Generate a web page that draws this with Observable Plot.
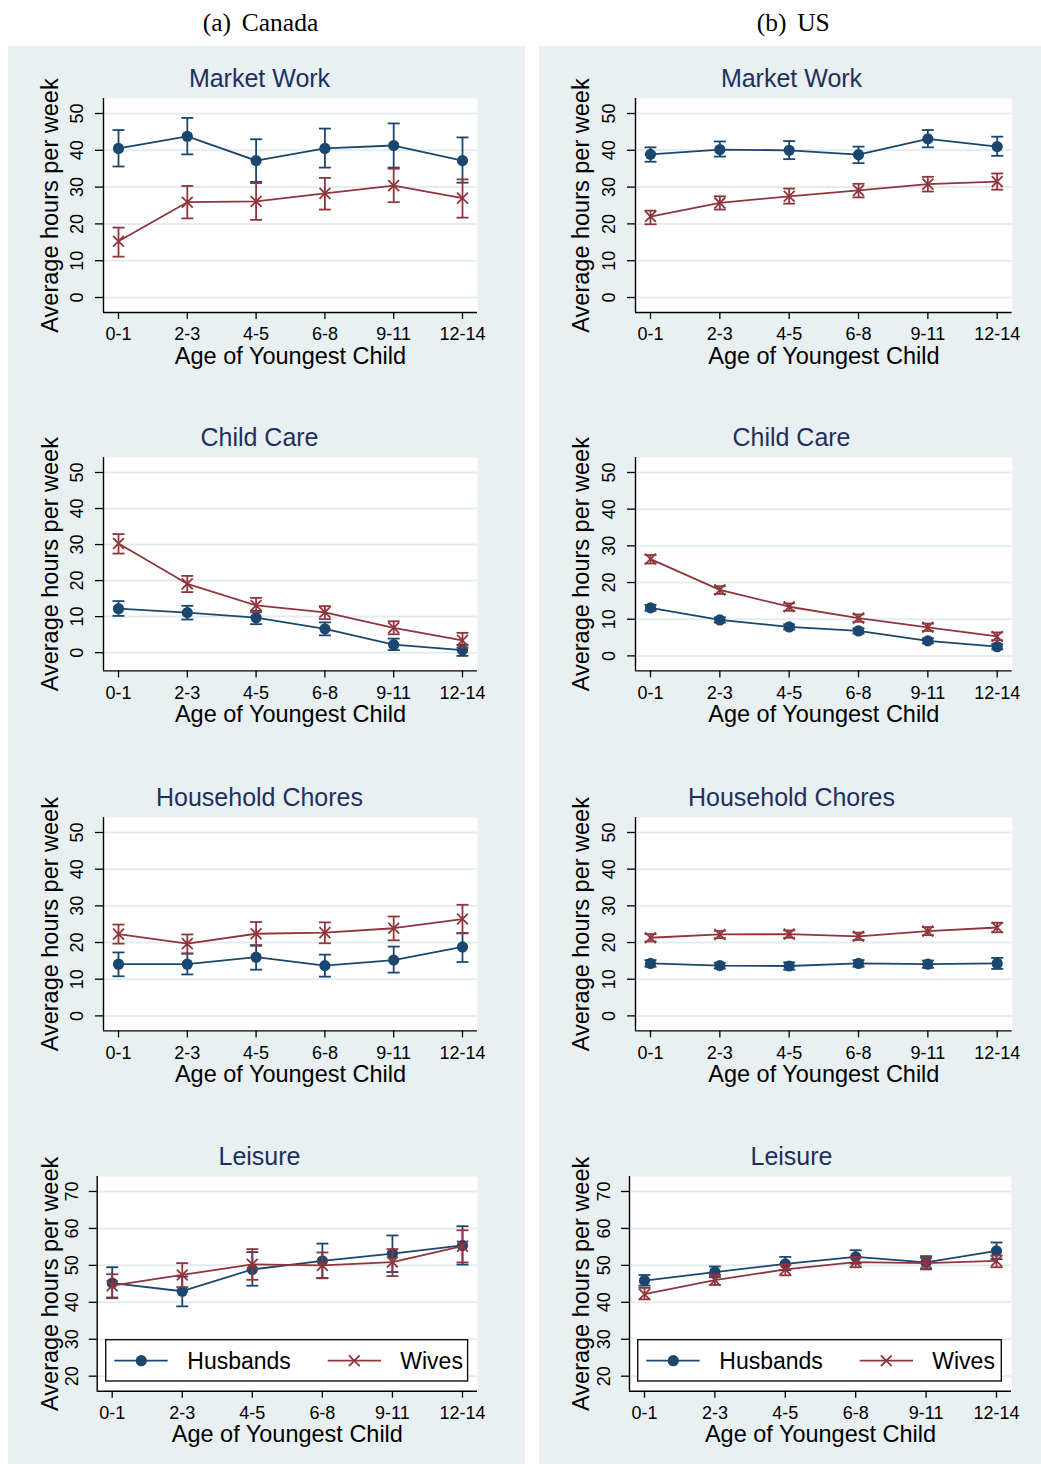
<!DOCTYPE html>
<html><head><meta charset="utf-8">
<script src="https://cdn.jsdelivr.net/npm/d3@7"></script>
<script src="https://cdn.jsdelivr.net/npm/@observablehq/plot@0.6"></script>
<style>
body{margin:0;background:#fff;}
#page{position:relative;width:1041px;height:1464px;overflow:hidden;font-family:"Liberation Sans",Arial,sans-serif;}
.col{position:absolute;top:46px;height:1418px;background:#e8f0f2;}
.hdr{position:absolute;top:10.3px;font-family:"Liberation Serif","Times New Roman",serif;font-size:25.5px;line-height:1;white-space:nowrap;transform:translateX(-50%);color:#000;}
.hdr span+span{margin-left:10.7px;}
.cell{position:absolute;}
.cell svg{overflow:visible;}
.cell svg text{font-family:"Liberation Sans",Arial,sans-serif;}
</style></head><body><div id="page"></div>
<script>
// ---------- data ----------
const categories = ["0-1","2-3","4-5","6-8","9-11","12-14"];
const ticksHours = [0,10,20,30,40,50];
const ticksLeisure = [20,30,40,50,60,70];
const seriesNames = ["Husbands","Wives"];
const panelTitles = ["Market Work","Child Care","Household Chores","Leisure"];
const countryHeaders = [["(a)","Canada"],["(b)","US"]];
const xTitle = "Age of Youngest Child";
const yTitle = "Average hours per week";

// Canada
const caMarketHus = [40.5, 43.8, 37.2, 40.5, 41.3, 37.2];
const caMarketHusCI = [[35.6,45.5],[38.9,48.8],[31.4,43.0],[35.3,45.9],[35.3,47.3],[31.2,43.5]];
const caMarketWiv = [15.3, 25.9, 26.1, 28.3, 30.4, 27.0];
const caMarketWivCI = [[11.1,19.0],[21.5,30.3],[21.1,31.1],[23.9,32.5],[25.9,35.0],[21.7,32.1]];
const caCareHus = [12.2, 11.1, 9.7, 6.6, 2.2, 0.7];
const caCareHusCI = [[10.2,14.3],[9.2,13.0],[7.9,11.6],[4.8,8.4],[0.7,3.9],[-0.9,2.2]];
const caCareWiv = [30.3, 19.1, 13.1, 11.2, 6.9, 3.4];
const caCareWivCI = [[27.5,32.9],[16.8,21.3],[11.2,15.2],[9.3,12.9],[5.1,8.7],[1.4,5.5]];
const caChoreHus = [14.1, 14.1, 16.0, 13.7, 15.2, 18.8];
const caChoreHusCI = [[10.8,17.3],[11.3,17.0],[12.6,19.3],[10.7,16.7],[11.8,18.9],[14.7,22.5]];
const caChoreWiv = [22.3, 19.7, 22.4, 22.7, 23.9, 26.4];
const caChoreWivCI = [[19.7,24.9],[17.0,22.2],[19.1,25.6],[19.8,25.5],[20.6,27.1],[22.6,30.3]];
const caLeisHus = [45.2, 43.0, 48.9, 51.2, 53.2, 55.4];
const caLeisHusCI = [[41.3,49.5],[38.9,47.0],[44.5,53.6],[46.6,55.9],[48.2,58.1],[50.2,60.6]];
const caLeisWiv = [44.5, 47.4, 50.3, 50.0, 50.9, 55.2];
const caLeisWivCI = [[41.1,47.6],[44.1,50.6],[46.1,54.4],[46.5,53.5],[47.1,54.4],[50.8,59.5]];

// US
const usMarketHus = [38.9, 40.2, 40.0, 38.8, 43.1, 41.0];
const usMarketHusCI = [[36.9,40.8],[38.3,42.4],[37.6,42.5],[36.5,41.0],[40.8,45.5],[38.5,43.7]];
const usMarketWiv = [22.0, 25.7, 27.5, 29.1, 30.8, 31.5];
const usMarketWivCI = [[19.9,23.6],[23.9,27.5],[25.5,29.6],[27.2,30.9],[28.8,32.8],[29.3,33.7]];
const usCareHus = [13.1, 9.8, 7.9, 6.8, 4.1, 2.5];
const usCareHusCI = [[12.3,13.9],[9.1,10.5],[7.2,8.6],[6.1,7.5],[3.4,4.8],[1.8,3.2]];
const usCareWiv = [26.4, 18.0, 13.4, 10.3, 7.8, 5.3];
const usCareWivCI = [[25.2,27.5],[16.9,19.0],[12.3,14.3],[9.3,11.3],[6.8,8.8],[4.3,6.4]];
const usChoreHus = [14.3, 13.7, 13.6, 14.3, 14.1, 14.3];
const usChoreHusCI = [[13.4,15.2],[12.9,14.5],[12.6,14.6],[13.4,15.2],[13.1,15.1],[12.8,15.8]];
const usChoreWiv = [21.3, 22.2, 22.3, 21.7, 23.1, 24.1];
const usChoreWivCI = [[20.3,22.3],[21.2,23.2],[21.3,23.3],[20.7,22.7],[22.0,24.2],[22.8,25.4]];
const usLeisHus = [45.9, 48.2, 50.4, 52.3, 50.8, 53.9];
const usLeisHusCI = [[44.5,47.4],[46.8,49.7],[48.7,52.3],[50.5,54.1],[49.0,52.5],[51.7,56.2]];
const usLeisWiv = [42.2, 46.0, 48.9, 50.9, 50.6, 51.2];
const usLeisWivCI = [[40.8,43.9],[44.7,47.4],[47.3,50.3],[49.5,52.3],[48.9,52.2],[49.5,52.7]];

// ---------- styling / layout ----------
const FONT = "'Liberation Sans', Arial, sans-serif";
const NAVY = "#1a476f", MAROON = "#90353b", TITLE = "#1f2f5e", GRID = "#e3ecef";
const rowTops = [98, 457.3, 817.3, 1176];
const rowH = [214, 213.4, 213.4, 214.7];
const MT = 52, MB = 62;
const cols = [
  {left: 8, width: 517, titleX: 251, ml: [95,95,95,88.7], mr: [48,48,48,48], hdrX: 260.5,
   data: [[caMarketHus,caMarketHusCI,caMarketWiv,caMarketWivCI],[caCareHus,caCareHusCI,caCareWiv,caCareWivCI],
          [caChoreHus,caChoreHusCI,caChoreWiv,caChoreWivCI],[caLeisHus,caLeisHusCI,caLeisWiv,caLeisWivCI]]},
  {left: 539, width: 502, titleX: 252, ml: [96,96,96,90], mr: [29.3,29.3,29.3,30], hdrX: 793.3,
   data: [[usMarketHus,usMarketHusCI,usMarketWiv,usMarketWivCI],[usCareHus,usCareHusCI,usCareWiv,usCareWivCI],
          [usChoreHus,usChoreHusCI,usChoreWiv,usChoreWivCI],[usLeisHus,usLeisHusCI,usLeisWiv,usLeisWivCI]]}
];

const capSymbol = {draw(ctx, size) { const w = Math.sqrt(size / Math.PI); ctx.moveTo(-w, 0); ctx.lineTo(w, 0); }};

function seriesMarks(vals, ci, color, isWives) {
  const data = vals.map((v, i) => ({i, v, lo: ci[i][0], hi: ci[i][1]}));
  const sw = 1.8;
  return [
    Plot.ruleX(data, {x: "i", y1: "lo", y2: "hi", stroke: color, strokeWidth: sw}),
    Plot.dot(data, {x: "i", y: "lo", symbol: capSymbol, r: 6, fill: "none", stroke: color, strokeWidth: sw}),
    Plot.dot(data, {x: "i", y: "hi", symbol: capSymbol, r: 6, fill: "none", stroke: color, strokeWidth: sw}),
    Plot.line(data, {x: "i", y: "v", stroke: color, strokeWidth: sw}),
    isWives
      ? Plot.dot(data, {x: "i", y: "v", symbol: "times", r: 5, fill: "none", stroke: color, strokeWidth: 1.8})
      : Plot.dot(data, {x: "i", y: "v", r: 5.6, fill: color, stroke: "none"})
  ];
}

function panel(col, ri) {
  const [hus, husCI, wiv, wivCI] = col.data[ri];
  const yTicks = ri === 3 ? ticksLeisure : ticksHours;
  const ml = col.ml[ri], mr = col.mr[ri], plotH = rowH[ri];
  const all = [...husCI.flat(), ...wivCI.flat(), ...hus, ...wiv];
  const lo = Math.min(yTicks[0], d3.min(all)), hi = Math.max(yTicks[yTicks.length - 1], d3.max(all));
  const inset = 15;
  const padY = inset * (hi - lo) / (plotH - 2 * inset);
  const yDom = [lo - padY, hi + padY];
  const plotW = col.width - ml - mr;
  const n = categories.length - 1;
  const padX = inset * n / (plotW - 2 * inset);
  const xDom = [-padX, n + padX];
  return Plot.plot({
    width: col.width, height: MT + plotH + MB,
    marginTop: MT, marginBottom: MB, marginLeft: ml, marginRight: mr,
    x: {domain: xDom}, y: {domain: yDom},
    style: {background: "transparent", fontFamily: FONT, color: "#000", overflow: "visible"},
    marks: [
      Plot.frame({fill: "white", stroke: "none"}),
      Plot.ruleY(yTicks, {stroke: GRID, strokeWidth: 2}),
      Plot.ruleX([xDom[0]], {stroke: "#000", strokeWidth: 1.4}),
      Plot.ruleY([yDom[0]], {stroke: "#000", strokeWidth: 1.4}),
      Plot.axisY({ticks: yTicks, tickSize: 8, tickRotate: -90, tickPadding: ri === 3 ? 11.5 : 13, label: null, fontSize: 18, fontFamily: FONT, strokeWidth: 1.3}),
      Plot.axisX({ticks: d3.range(categories.length), tickFormat: i => categories[i], tickSize: 7, tickPadding: 8, label: null, fontSize: 18, fontFamily: FONT, strokeWidth: 1.3}),
      Plot.text([panelTitles[ri]], {text: d => d, frameAnchor: "top-left", dx: col.titleX - ml, dy: -11.5, textAnchor: "middle", lineAnchor: "bottom", fontSize: 25, fontFamily: FONT, fill: TITLE}),
      Plot.text([xTitle], {text: d => d, frameAnchor: "bottom", dy: 51, lineAnchor: "bottom", fontSize: 23.5, fontFamily: FONT, fill: "#000"}),
      Plot.text([yTitle], {text: d => d, frameAnchor: "left", dx: 49.6 - ml, rotate: -90, textAnchor: "middle", lineAnchor: "bottom", fontSize: 23.5, fontFamily: FONT, fill: "#000"}),
      ...seriesMarks(hus, husCI, NAVY, false),
      ...seriesMarks(wiv, wivCI, MAROON, true)
    ]
  });
}

function legend(col) {
  const plotLeft = col.left + col.ml[3];
  const plotRight = col.left + col.width - col.mr[3];
  const boxL = plotLeft + 8.3, boxR = plotRight - 8.7;
  const boxB = rowTops[3] + rowH[3] - 9, boxH = 42.7, boxT = boxB - boxH;
  const w = boxR - boxL;
  const holder = document.createElement("div");
  holder.className = "cell";
  holder.style.left = boxL + "px"; holder.style.top = boxT + "px";
  const svg = d3.create("svg").attr("width", w).attr("height", boxH).style("overflow", "visible");
  svg.append("rect").attr("x", 0.7).attr("y", 0.7).attr("width", w - 1.4).attr("height", boxH - 1.4)
    .attr("fill", "#fff").attr("stroke", "#111").attr("stroke-width", 1.4);
  const cy = 21.7;
  const items = [
    {x0: 9.3, x1: 62.7, mx: 36.3, tx: 82.3, color: NAVY, name: seriesNames[0], wives: false},
    {x0: 222.7, x1: 276, mx: 249.3, tx: 295.3, color: MAROON, name: seriesNames[1], wives: true}
  ];
  for (const it of items) {
    svg.append("line").attr("x1", it.x0).attr("x2", it.x1).attr("y1", cy).attr("y2", cy)
      .attr("stroke", it.color).attr("stroke-width", 1.8);
    if (it.wives) {
      const s = 5.4;
      svg.append("path").attr("d", `M${it.mx - s},${cy - s}L${it.mx + s},${cy + s}M${it.mx - s},${cy + s}L${it.mx + s},${cy - s}`)
        .attr("stroke", it.color).attr("stroke-width", 1.8).attr("fill", "none");
    } else {
      svg.append("circle").attr("cx", it.mx).attr("cy", cy).attr("r", 5.6).attr("fill", it.color);
    }
    svg.append("text").attr("x", it.tx).attr("y", 30.3).attr("font-size", 23)
      .attr("font-family", FONT).attr("fill", "#000").text(it.name);
  }
  holder.appendChild(svg.node());
  return holder;
}

const page = document.getElementById("page");
cols.forEach((col, ci) => {
  const bg = document.createElement("div");
  bg.className = "col"; bg.style.left = col.left + "px"; bg.style.width = col.width + "px";
  page.appendChild(bg);
  const hdr = document.createElement("div");
  hdr.className = "hdr"; hdr.style.left = col.hdrX + "px";
  hdr.innerHTML = `<span>${countryHeaders[ci][0]}</span><span>${countryHeaders[ci][1]}</span>`;
  page.appendChild(hdr);
  for (let ri = 0; ri < 4; ri++) {
    const cell = document.createElement("div");
    cell.className = "cell";
    cell.style.left = col.left + "px";
    cell.style.top = (rowTops[ri] - MT) + "px";
    cell.appendChild(panel(col, ri));
    page.appendChild(cell);
  }
  page.appendChild(legend(col));
});
</script>
</body></html>
